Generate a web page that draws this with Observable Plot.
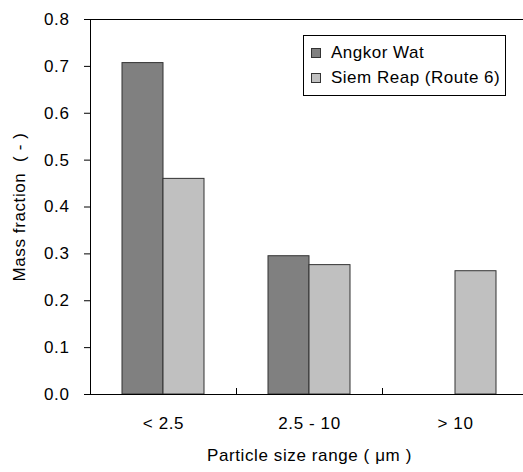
<!DOCTYPE html>
<html>
<head>
<meta charset="utf-8">
<script src="https://cdn.jsdelivr.net/npm/d3@7"></script>
<script src="https://cdn.jsdelivr.net/npm/@observablehq/plot@0.6"></script>
<style>
  html, body { margin: 0; padding: 0; background: #fff; overflow: hidden; }
  #wrap { position: relative; width: 523px; height: 472px; font-family: Arial, "Liberation Sans", sans-serif; }
  #wrap svg text { letter-spacing: 0.6px; }
  #legend { position: absolute; left: 303px; top: 35px; width: 203px; height: 61px; border: 1px solid #000; background: #fff; box-sizing: border-box; font-size: 17px; letter-spacing: 0.5px; color: #000; }
  .item { position: absolute; left: 7px; display: flex; align-items: center; white-space: nowrap; line-height: 20px; }
  .sw { width: 10px; height: 10px; border: 1px solid #333; box-sizing: border-box; margin-right: 10px; }
</style>
</head>
<body>
<div id="wrap"></div>
<script>
const categories = ["< 2.5", "2.5 - 10", "> 10"];
const seriesNames = ["Angkor Wat", "Siem Reap (Route 6)"];
const angkorWat = [0.707, 0.295, null];
const siemReap = [0.460, 0.276, 0.263];
const yTicks = [0, 0.1, 0.2, 0.3, 0.4, 0.5, 0.6, 0.7, 0.8];
const colors = ["#808080", "#c0c0c0"];

const rows = [];
categories.forEach((c, i) => {
  if (angkorWat[i] != null) rows.push({cat: c, i, series: seriesNames[0], value: angkorWat[i]});
  if (siemReap[i] != null) rows.push({cat: c, i, series: seriesNames[1], value: siemReap[i]});
});

const chart = Plot.plot({
  width: 523,
  height: 472,
  marginLeft: 90,
  marginRight: -5,
  marginTop: 19,
  marginBottom: 78,
  style: {fontFamily: 'Arial, "Liberation Sans", sans-serif', fontSize: "17px", color: "#000", background: "#fff"},
  x: {domain: [0, categories.length]},
  y: {domain: [0, 0.8]},
  marks: [
    Plot.rectY(rows.filter(d => d.series === seriesNames[0]), {
      x1: d => d.i, x2: d => d.i + 1, y1: 0, y2: "value",
      fill: colors[0], stroke: "#333", strokeWidth: 1, insetLeft: 32, insetRight: 73
    }),
    Plot.rectY(rows.filter(d => d.series === seriesNames[1]), {
      x1: d => d.i, x2: d => d.i + 1, y1: 0, y2: "value",
      fill: colors[1], stroke: "#333", strokeWidth: 1, insetLeft: 73, insetRight: 32
    }),
    Plot.frame({stroke: "#000"}),
    Plot.axisY({
      ticks: yTicks, tickFormat: d3.format(".1f"), tickSize: 6, tickPadding: 15, fontSize: 17,
      label: "Mass fraction  ( - )", labelAnchor: "center", labelOffset: 78, labelArrow: "none"
    }),
    Plot.axisX({
      ticks: categories.map((c, i) => i + 0.5), tickFormat: d => categories[Math.floor(d)],
      tickSize: 0, tickPadding: 22, fontSize: 17,
      label: "Particle size range ( μm )", labelAnchor: "center", labelOffset: 66, labelArrow: "none"
    }),
    Plot.axisX({
      ticks: d3.range(1, categories.length), tickFormat: () => "", tickSize: -6, label: null
    })
  ]
});
document.getElementById("wrap").appendChild(chart);

const legend = document.createElement("div");
legend.id = "legend";
seriesNames.forEach((name, k) => {
  const item = document.createElement("div");
  item.className = "item";
  item.style.top = (7 + k * 25) + "px";
  const sw = document.createElement("span");
  sw.className = "sw";
  sw.style.background = colors[k];
  const t = document.createElement("span");
  t.textContent = name;
  item.appendChild(sw);
  item.appendChild(t);
  legend.appendChild(item);
});
document.getElementById("wrap").appendChild(legend);
</script>
</body>
</html>
